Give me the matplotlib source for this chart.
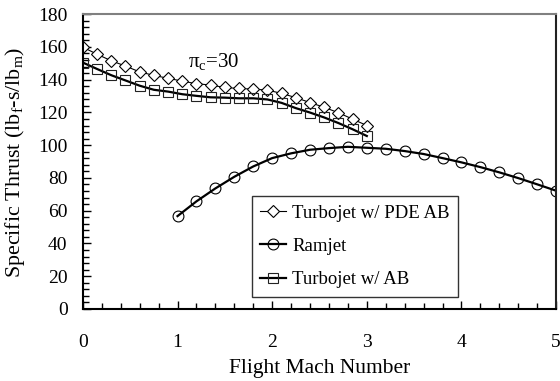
import matplotlib
matplotlib.use("Agg")
import matplotlib.pyplot as plt
from matplotlib.ticker import MultipleLocator
import numpy as np

plt.rcParams['font.family'] = ['Liberation Serif', 'DejaVu Serif']
plt.rcParams['mathtext.fontset'] = 'custom'
plt.rcParams['mathtext.rm'] = 'Liberation Serif'
plt.rcParams['mathtext.it'] = 'Liberation Serif:italic'
plt.rcParams['mathtext.default'] = 'rm'

# ---- data ----
mach_tj = [0.0, 0.15, 0.3, 0.45, 0.6, 0.75, 0.9, 1.05, 1.2, 1.35, 1.5,
           1.65, 1.8, 1.95, 2.1, 2.25, 2.4, 2.55, 2.7, 2.85, 3.0]
st_pde_ab = [159.8, 155.5, 151.5, 148.3, 144.7, 142.6, 140.8, 139.1, 137.5, 136.7, 135.2,
             134.6, 134.2, 133.6, 131.6, 129.0, 126.0, 123.1, 119.8, 115.9, 112.0]
st_ab = [150.4, 146.5, 142.7, 139.5, 136.3, 133.8, 132.7, 131.1, 130.1, 129.2, 129.0,
         128.6, 128.6, 127.9, 125.8, 122.6, 119.9, 116.9, 113.5, 109.7, 105.6]
mach_rj = [1.0, 1.2, 1.4, 1.6, 1.8, 2.0, 2.2, 2.4, 2.6, 2.8, 3.0,
           3.2, 3.4, 3.6, 3.8, 4.0, 4.2, 4.4, 4.6, 4.8, 5.0]
st_rj = [56.7, 65.7, 73.6, 80.7, 87.0, 92.1, 95.0, 97.2, 98.2, 99.0, 98.4,
         97.8, 96.4, 94.6, 92.1, 89.5, 86.6, 83.4, 79.9, 76.1, 72.2]

labels = ['Turbojet w/ PDE AB', 'Ramjet', 'Turbojet w/ AB']
x_ticks = [0, 1, 2, 3, 4, 5]
y_ticks = [0, 20, 40, 60, 80, 100, 120, 140, 160, 180]

fig = plt.figure(figsize=(5.6, 3.81), dpi=100)
ax = fig.add_axes([0.148, 0.189, 0.845, 0.774])

ax.plot(mach_tj, st_pde_ab, color='black', lw=0.8, marker='D', ms=6.2,
        mfc='white', mec='black', mew=0.8, label=labels[0])
ax.plot(mach_rj, st_rj, color='black', lw=1.6, marker='o', ms=7.8,
        mfc='none', mec='black', mew=0.8, label=labels[1])
ax.plot(mach_tj, st_ab, color='black', lw=1.6, marker='s', ms=7.8,
        mfc='none', mec='#222222', mew=0.8, label=labels[2])

ax.set_xlim(0, 5)
ax.set_ylim(0, 180)
ax.set_xticks(x_ticks)
ax.set_yticks(y_ticks)
ax.xaxis.set_minor_locator(MultipleLocator(0.2))
ax.yaxis.set_minor_locator(MultipleLocator(4))
ax.tick_params(axis='both', which='both', direction='in', top=False, right=False,
               labelsize=14, width=1)
ax.tick_params(axis='both', which='major', length=6)
ax.tick_params(axis='both', which='minor', length=4)
ax.tick_params(axis='x', which='major', pad=18)
ax.tick_params(axis='y', which='major', pad=11)

for s in ['left', 'bottom']:
    ax.spines[s].set_linewidth(1.5)
    ax.spines[s].set_color('black')
ax.spines['right'].set_linewidth(1.5)
ax.spines['right'].set_color('#222222')
ax.spines['top'].set_linewidth(1.5)
ax.spines['top'].set_color('#808080')

ax.set_xlabel('Flight Mach Number', fontsize=15.5)
ax.xaxis.set_label_coords(0.5, -0.17)
fig.text(15 / 560, 1 - 163 / 381,
         r'Specific Thrust (lb$_\mathrm{f}$-s/lb$_\mathrm{m}$)', fontsize=15.8,
         rotation=90, ha='center', va='center')

ax.text(1.11, 147.6, r'π$_\mathrm{c}$=30', fontsize=15, ha='left', va='baseline')

leg = ax.legend(loc='lower left', bbox_to_anchor=(0.357, 0.041), borderaxespad=0,
                fontsize=13.5, frameon=True, fancybox=False, edgecolor='black',
                handlelength=1.4, handletextpad=0.3, labelspacing=0.87,
                borderpad=0.45)
leg.get_frame().set_linewidth(1.0)

fig.savefig('out.png', dpi=100)
